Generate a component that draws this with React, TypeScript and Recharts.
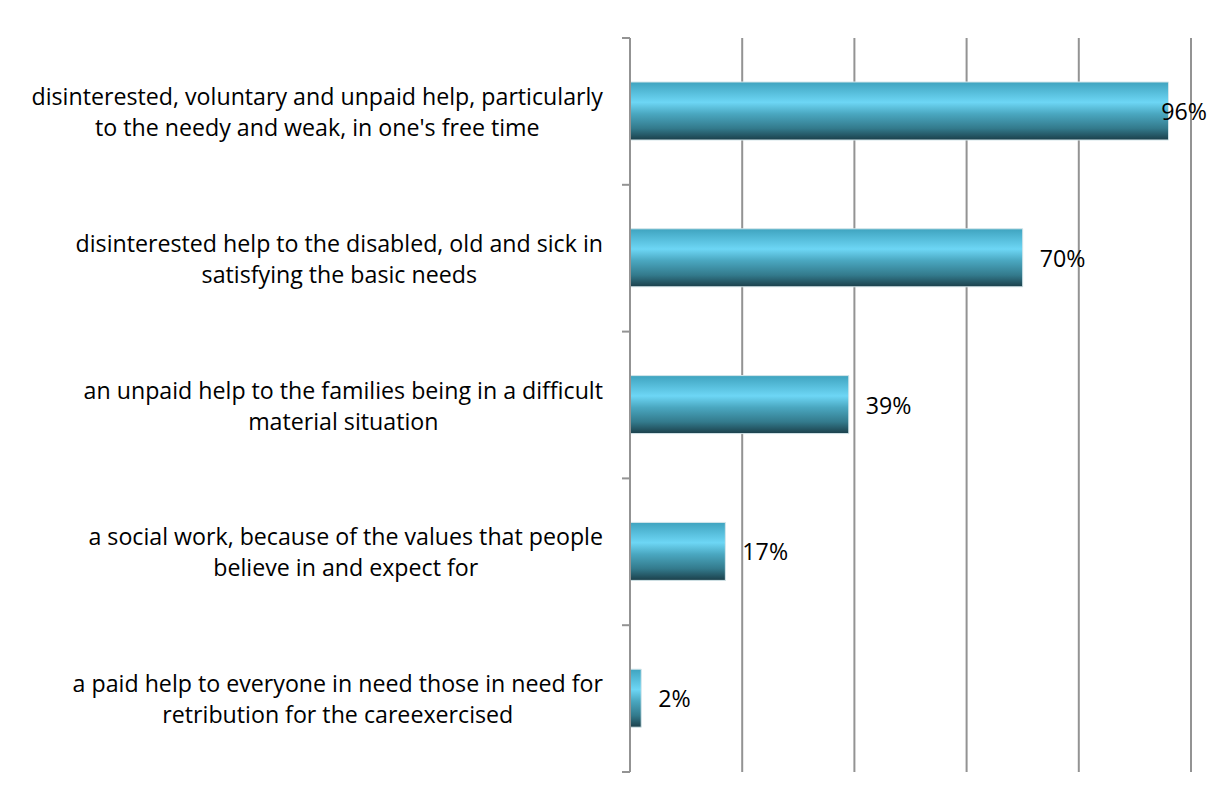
import React from 'react'
import { BarChart, Bar, XAxis, YAxis, CartesianGrid, LabelList } from 'recharts'

// categories (two text lines each) and shares
const categories = [
  "disinterested, voluntary and unpaid help, particularly\nto the needy and weak, in one's free time",
  'disinterested help to the disabled, old and sick in\nsatisfying the basic needs',
  'an unpaid help to the families being in a difficult\nmaterial situation',
  'a social work, because of the values that people\nbelieve in and expect for',
  'a paid help to everyone in need those in need for\nretribution for the careexercised',
]
const shares = [0.96, 0.7, 0.39, 0.17, 0.02]
const valueTicks = [0, 0.2, 0.4, 0.6, 0.8, 1]

const data = categories.map((name, i) => ({ name, value: shares[i] }))

const FONT = '"Open Sans", "Noto Sans", sans-serif'
const FONT_SIZE = 23.2
const W = 1219
const H = 797
const GRID = '#939393'

let ctx: CanvasRenderingContext2D | null = null
const textWidth = (s: string) => {
  if (!ctx) ctx = document.createElement('canvas').getContext('2d')
  if (!ctx) return s.length * 10
  ctx.font = `${FONT_SIZE}px ${FONT}`
  return ctx.measureText(s).width
}

// chart-area frame, cut off at the bottom of the picture
const Frame = () => (
  <path
    d={`M7 ${H + 10} V5 H${W - 5} V${H + 10}`}
    fill="none"
    stroke="#8a8a8a"
    strokeWidth={2}
  />
)

const CategoryTick = (props: any) => {
  const { x, y, payload, index, visibleTicksCount } = props
  const lines: string[] = String(payload.value).split('\n')
  const right = x - 27
  const widest = Math.max(...lines.map(textWidth))
  const center = right - widest / 2
  const half = payload.offset || 0
  return (
    <g>
      {index === 0 && <Frame />}
      <line x1={x - 8} x2={x} y1={y - half} y2={y - half} stroke={GRID} strokeWidth={2} />
      {index === visibleTicksCount - 1 && (
        <line x1={x - 8} x2={x} y1={y + half} y2={y + half} stroke={GRID} strokeWidth={2} />
      )}
      {lines.map((l, i) => (
        <text
          key={i}
          x={center}
          y={y + (i - (lines.length - 1) / 2) * 31}
          textAnchor="middle"
          dominantBaseline="central"
          fontFamily={FONT}
          fontSize={FONT_SIZE}
          fill="#000"
        >
          {l}
        </text>
      ))}
    </g>
  )
}

const ValueLabel = (props: any) => {
  const { x, y, width, height, value } = props
  const txt = `${Math.round(value * 100)}%`
  const w = textWidth(txt)
  // keep the label inside the frame (Excel pushes it back over the bar)
  const tx = Math.min(x + width + 17, W - 12 - w)
  return (
    <text
      x={tx}
      y={y + height / 2}
      dominantBaseline="central"
      fontFamily={FONT}
      fontSize={FONT_SIZE}
      fill="#000"
    >
      {txt}
    </text>
  )
}

export default function App() {
  return (
    <div style={{ margin: -8, width: W, height: H, background: '#fff' }}>
      <BarChart
        width={W}
        height={H}
        data={data}
        layout="vertical"
        margin={{ top: 38, right: 28, bottom: 25, left: 8 }}
      >
        <defs>
          <linearGradient id="barFill" x1="0" y1="0" x2="0" y2="1">
            <stop offset="0%" stopColor="#3fa3bf" />
            <stop offset="35%" stopColor="#6dd6f5" />
            <stop offset="55%" stopColor="#4aa7c0" />
            <stop offset="80%" stopColor="#337a8c" />
            <stop offset="100%" stopColor="#1b3f4a" />
          </linearGradient>
        </defs>
        <CartesianGrid horizontal={false} stroke={GRID} strokeWidth={2} />
        <XAxis type="number" domain={[0, 1]} ticks={valueTicks} hide />
        <YAxis
          type="category"
          dataKey="name"
          width={622}
          tickSize={0}
          tickMargin={0}
          tickLine={false}
          axisLine={{ stroke: GRID, strokeWidth: 2 }}
          tick={<CategoryTick />}
          interval={0}
        />
        <Bar
          dataKey="value"
          barSize={58}
          fill="url(#barFill)"
          stroke="#d4e6ea"
          strokeWidth={1}
          isAnimationActive={false}
        >
          <LabelList dataKey="value" content={<ValueLabel />} />
        </Bar>
      </BarChart>
    </div>
  )
}
